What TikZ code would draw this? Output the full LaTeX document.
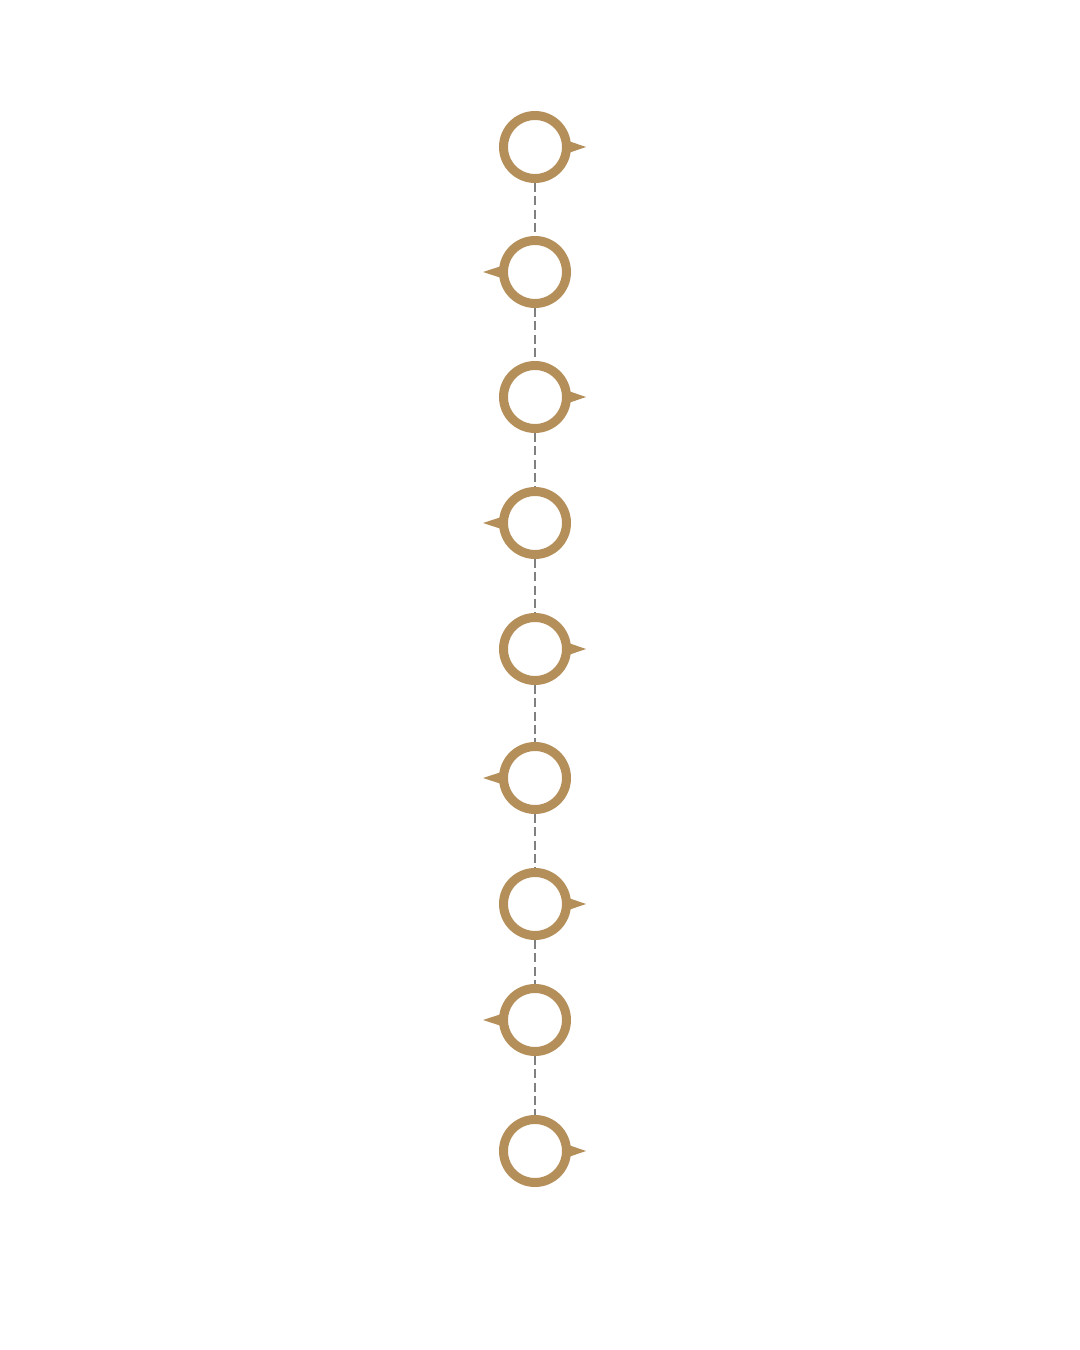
\documentclass[tikz,border=0pt]{standalone}
\usepackage{xcolor}
\usepackage{tikz}
\usetikzlibrary{positioning, calc}
\definecolor{ringbrown}{HTML}{B58F5A}
\tikzstyle{ring} = [circle, minimum size=0.63cm, inner sep=0pt, draw=ringbrown, line width=0.09cm, fill=white]
\tikzstyle{link} = [draw=gray, line width=0.6pt, dash pattern=on 2.6pt off 1.2pt]
\tikzstyle{pointer} = [fill=ringbrown]

\begin{document}
\begin{tikzpicture}
\useasboundingbox (0,0) rectangle (10.8,13.5);

\node [ring] (c1) at (5.35,12.03) {};
\node [ring] (c2) at (5.35,10.78) {};
\node [ring] (c3) at (5.35,9.53) {};
\node [ring] (c4) at (5.35,8.27) {};
\node [ring] (c5) at (5.35,7.01) {};
\node [ring] (c6) at (5.35,5.72) {};
\node [ring] (c7) at (5.35,4.46) {};
\node [ring] (c8) at (5.35,3.30) {};
\node [ring] (c9) at (5.35,1.99) {};

\draw [link] (c1) -- (c2);
\draw [link] (c2) -- (c3);
\draw [link] (c3) -- (c4);
\draw [link] (c4) -- (c5);
\draw [link] (c5) -- (c6);
\draw [link] (c6) -- (c7);
\draw [link] (c7) -- (c8);
\draw [link] (c8) -- (c9);

% pointers, alternating right and left
\fill [pointer] ($(c1.center)+(0.32,0.065)$) -- ($(c1.center)+(0.51,0)$) -- ($(c1.center)+(0.32,-0.065)$) -- cycle;
\fill [pointer] ($(c2.center)+(-0.32,0.065)$) -- ($(c2.center)+(-0.52,0)$) -- ($(c2.center)+(-0.32,-0.065)$) -- cycle;
\fill [pointer] ($(c3.center)+(0.32,0.065)$) -- ($(c3.center)+(0.51,0)$) -- ($(c3.center)+(0.32,-0.065)$) -- cycle;
\fill [pointer] ($(c4.center)+(-0.32,0.065)$) -- ($(c4.center)+(-0.52,0)$) -- ($(c4.center)+(-0.32,-0.065)$) -- cycle;
\fill [pointer] ($(c5.center)+(0.32,0.065)$) -- ($(c5.center)+(0.51,0)$) -- ($(c5.center)+(0.32,-0.065)$) -- cycle;
\fill [pointer] ($(c6.center)+(-0.32,0.065)$) -- ($(c6.center)+(-0.52,0)$) -- ($(c6.center)+(-0.32,-0.065)$) -- cycle;
\fill [pointer] ($(c7.center)+(0.32,0.065)$) -- ($(c7.center)+(0.51,0)$) -- ($(c7.center)+(0.32,-0.065)$) -- cycle;
\fill [pointer] ($(c8.center)+(-0.32,0.065)$) -- ($(c8.center)+(-0.52,0)$) -- ($(c8.center)+(-0.32,-0.065)$) -- cycle;
\fill [pointer] ($(c9.center)+(0.32,0.065)$) -- ($(c9.center)+(0.51,0)$) -- ($(c9.center)+(0.32,-0.065)$) -- cycle;
\end{tikzpicture}
\end{document}
